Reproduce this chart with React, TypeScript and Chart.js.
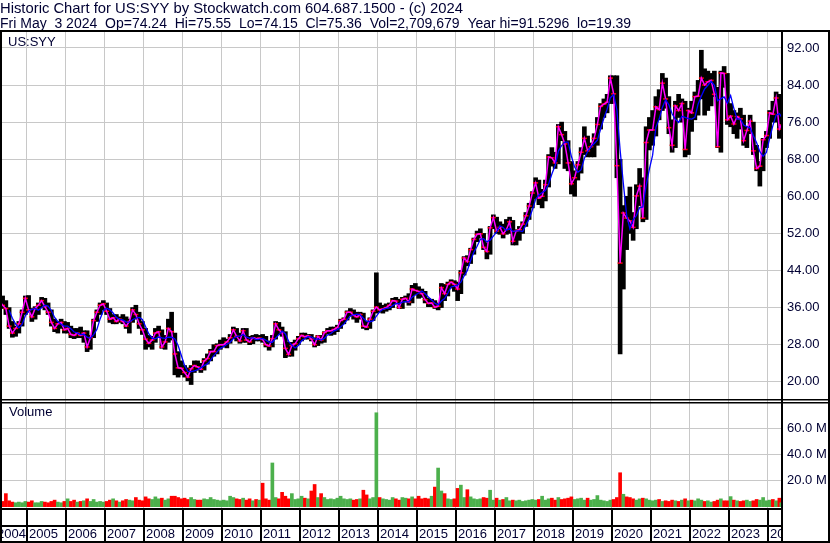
import React, { useEffect, useRef } from "react";
import { Chart, registerables } from "chart.js";

Chart.register(...registerables);

const TITLE_LINE = "Historic Chart for US:SYY by Stockwatch.com 604.687.1500 - (c) 2024";
const SUBTITLE_LINE = "Fri May  3 2024  Op=74.24  Hi=75.55  Lo=74.15  Cl=75.36  Vol=2,709,679  Year hi=91.5296  lo=19.39";
const SYMBOL = "US:SYY";
const VOLUME_LABEL = "Volume";

// Monthly bars, first month = April 2004, last = May 2024 (partial)
const START_YEAR = 2004;
const START_MONTH = 3;

const highs = [
  39.0, 38.5, 37.5, 36.0, 33.0, 32.0, 33.0, 35.5, 38.5,
  38.6, 35.8, 36.2, 37.0, 38.2, 38.0, 37.0, 35.5, 33.5, 33.0, 33.5, 33.0,
  32.8, 32.0, 31.5, 31.5, 31.8, 31.0, 31.0, 30.0, 33.5, 35.5, 37.0, 37.5,
  37.0, 35.8, 34.5, 34.5, 34.0, 34.5, 34.0, 33.5, 36.0, 36.5, 35.0, 33.0,
  31.5, 30.0, 29.8, 31.5, 32.0, 31.2, 30.0, 33.5, 35.0, 30.5, 26.5, 24.5,
  23.5, 23.0, 23.5, 24.5, 24.5, 24.0, 25.0, 26.0, 27.0, 28.0, 28.2, 29.0,
  29.5, 29.2, 30.2, 31.8, 31.5, 30.5, 31.5, 31.5, 29.8, 30.0, 30.2, 30.0,
  30.2, 29.8, 28.8, 30.0, 33.0, 32.8, 31.8, 30.8, 28.5, 28.5, 29.0, 29.8,
  30.5, 30.5, 30.2, 30.2, 29.5, 30.0, 30.0, 30.8, 31.5, 31.8, 31.8, 32.2,
  33.5, 33.8, 35.3, 35.8, 35.5, 35.0, 35.0, 34.8, 33.0, 33.8, 35.5, 43.5,
  37.0, 36.5, 36.8, 37.0, 38.0, 38.2, 37.8, 38.2, 38.5, 39.0, 40.8, 41.2,
  40.5, 40.0, 39.5, 38.0, 37.8, 37.5, 37.0, 41.2, 41.0, 41.5, 42.0, 41.8,
  41.5, 44.0, 47.0, 47.2, 48.8, 51.0, 52.5, 53.0, 52.0, 50.0, 53.5, 56.0,
  55.5, 54.5, 54.0, 55.0, 55.5, 54.8, 52.8, 53.5, 54.5, 56.5, 58.5, 61.0,
  64.0, 63.5, 61.5, 63.5, 69.0, 70.5, 69.5, 75.5, 76.0, 74.0, 72.0, 67.5,
  65.5, 67.5, 70.5, 75.0, 73.0, 71.5, 73.5, 77.0, 80.0, 81.0, 82.0, 86.0,
  86.0, 86.0, 68.0, 58.0, 60.0, 62.0, 56.5, 62.5, 66.0, 64.0, 75.0, 77.0,
  78.5, 81.5, 83.0, 86.5, 85.5, 81.5, 76.5, 80.5, 82.0, 81.0, 80.5, 79.0,
  80.5, 82.5, 85.0, 91.5, 87.5, 87.0, 86.5, 87.0, 83.5, 87.0, 88.0, 86.5,
  80.0, 78.5, 78.0, 79.0, 77.5, 75.0, 77.5, 76.0, 71.0, 67.5, 72.5, 74.0,
  78.5, 80.5, 82.5, 82.0, 75.6,
];

const lows = [
  36.8, 35.8, 34.5, 31.5, 29.6, 29.8, 30.5, 32.0, 34.5,
  35.0, 33.0, 33.5, 34.5, 36.0, 35.5, 34.5, 32.0, 30.8, 30.5, 31.5, 30.5,
  30.5, 29.5, 29.3, 29.5, 29.5, 28.5, 26.5, 27.0, 29.5, 33.0, 34.5, 35.5,
  34.5, 32.8, 32.5, 32.5, 32.8, 32.5, 31.5, 30.5, 32.8, 33.5, 31.5, 30.2,
  27.0, 27.5, 27.0, 28.5, 29.8, 27.2, 27.0, 28.5, 29.0, 21.5, 21.0, 21.5,
  21.0, 20.2, 19.4, 22.0, 22.5, 22.0, 22.5, 23.8, 24.5, 25.5, 26.0, 27.0,
  27.5, 27.3, 28.3, 29.3, 28.8, 28.3, 28.5, 28.5, 28.0, 28.2, 28.8, 28.8,
  28.5, 27.5, 26.8, 27.5, 29.2, 30.2, 29.8, 25.2, 25.5, 25.5, 26.8, 28.0,
  28.8, 29.2, 29.2, 28.8, 27.5, 27.8, 28.3, 28.5, 30.3, 30.0, 30.2, 30.8,
  31.5, 32.5, 33.3, 34.2, 33.5, 32.8, 33.5, 31.5, 31.2, 31.5, 33.2, 34.8,
  35.0, 34.8, 35.2, 35.5, 36.0, 36.8, 35.8, 35.8, 37.2, 36.5, 37.0, 38.8,
  38.0, 38.2, 37.0, 36.2, 36.2, 35.8, 35.5, 36.0, 37.5, 38.5, 40.2, 39.5,
  37.5, 39.0, 43.0, 45.0, 45.5, 47.5, 50.2, 51.0, 48.5, 46.5, 47.5, 53.0,
  52.0, 51.8, 51.0, 51.8, 52.0, 49.5, 49.5, 50.5, 52.0, 53.5, 55.0, 57.5,
  59.5, 58.2, 57.5, 59.0, 62.0, 66.5, 66.0, 67.0, 72.0, 66.0, 65.5, 60.5,
  60.0, 63.5, 65.0, 69.0, 68.5, 68.5, 68.5, 71.0, 74.5, 77.0, 78.0, 80.0,
  80.0, 64.0, 26.0, 40.0, 48.5, 52.0, 50.5, 53.0, 58.0, 54.5, 55.0, 70.0,
  71.0, 73.0, 76.5, 78.5, 79.0, 73.5, 69.5, 70.5, 77.0, 76.0, 68.5, 69.0,
  74.0, 76.5, 77.5, 81.0, 77.5, 78.5, 79.5, 81.5, 70.5, 69.5, 83.5, 75.5,
  75.0, 73.5, 72.5, 74.5, 71.0, 70.5, 73.5, 69.0, 65.5, 62.2, 65.5, 70.5,
  72.5, 76.0, 76.0, 72.5, 74.1,
];

const closes = [
  37.5, 36.5, 35.8, 32.0, 30.5, 31.5, 32.5, 35.0, 38.0,
  35.5, 34.0, 35.8, 36.5, 37.5, 36.2, 35.0, 32.8, 31.5, 32.5, 32.8, 31.2,
  31.5, 30.2, 30.0, 30.5, 30.0, 30.5, 27.5, 29.5, 33.2, 35.0, 36.5, 36.8,
  35.2, 33.5, 33.8, 33.0, 33.5, 33.0, 32.0, 33.0, 35.5, 34.5, 32.5, 31.2,
  29.2, 28.3, 29.0, 30.5, 30.8, 27.5, 28.6, 31.5, 30.8, 26.0, 23.0, 22.9,
  22.0, 21.0, 22.8, 23.5, 23.2, 22.7, 24.5, 25.0, 26.5, 26.5, 27.8, 28.0,
  28.0, 28.6, 29.5, 31.2, 29.8, 28.8, 31.0, 29.0, 28.6, 29.5, 29.3, 29.4,
  29.1, 28.0, 27.7, 29.3, 32.5, 31.2, 30.6, 27.2, 25.9, 27.8, 28.2, 29.3,
  30.0, 29.7, 29.9, 29.2, 28.0, 29.8, 29.0, 30.6, 31.0, 31.0, 31.3, 31.7,
  33.2, 33.5, 35.0, 35.0, 34.3, 34.0, 34.5, 32.0, 31.8, 33.5, 35.2, 36.1,
  35.5, 35.7, 36.0, 36.5, 37.5, 37.4, 36.0, 37.8, 38.0, 37.2, 40.0, 39.7,
  39.5, 39.0, 37.7, 36.9, 37.0, 36.1, 36.3, 40.3, 39.0, 41.0, 41.5, 41.0,
  40.0, 43.5, 46.7, 45.9, 48.5, 50.7, 51.8, 51.9, 49.0, 48.1, 53.2, 55.4,
  52.5, 53.3, 51.9, 52.8, 54.5, 50.3, 52.5, 52.8, 54.0, 55.8, 57.9, 60.7,
  62.9, 59.6, 60.0, 62.5, 68.5, 68.3, 67.2, 75.0, 73.3, 71.3, 67.2, 62.7,
  64.0, 66.8, 69.5, 72.5, 69.8, 70.7, 72.5, 75.5, 79.4, 79.9, 80.3, 85.5,
  82.1, 66.6, 45.6, 56.4, 55.3, 54.7, 53.3, 60.1, 62.2, 55.3, 71.6, 74.3,
  74.3, 79.3, 78.7, 84.4, 81.0, 74.8, 71.0, 79.5, 78.5, 80.0, 70.1, 78.5,
  78.0, 81.5, 81.6, 85.5, 84.0, 84.7, 85.0, 82.0, 70.7, 86.6, 86.5, 76.5,
  77.3, 75.6, 77.2, 76.7, 72.0, 74.2, 76.2, 69.8, 66.0, 66.5, 72.2, 73.1,
  78.0, 77.7, 81.2, 74.5, 75.4,
];

// Volume, millions of shares (tallest visible daily bar in each month)
const volumesM = [
  3.5, 4.0, 10.0, 4.5, 3.5, 3.0, 3.5, 3.0, 4.0,
  3.5, 4.5, 3.0, 3.0, 4.0, 3.5, 3.0, 4.0, 5.0, 3.5, 3.0, 4.0,
  6.0, 4.0, 5.0, 3.5, 4.0, 4.5, 6.0, 4.0, 5.5, 3.5, 4.0, 3.5,
  4.0, 5.0, 6.0, 4.5, 3.5, 4.5, 5.5, 5.0, 4.5, 7.0, 5.0, 4.5,
  7.5, 6.0, 5.5, 7.5, 6.0, 6.5, 5.0, 6.0, 8.0, 8.0, 7.0, 6.0,
  6.5, 5.5, 7.0, 5.5, 5.0, 5.0, 6.0, 5.5, 7.0, 5.5, 5.0, 4.5,
  5.0, 4.5, 8.0, 7.0, 6.0, 5.5, 6.5, 5.0, 6.0, 4.5, 5.5, 5.0,
  18.0, 6.0, 5.0, 33.5, 7.0, 6.0, 11.0, 8.0, 6.0, 10.0, 5.5, 6.0,
  8.0, 6.5, 6.0, 12.0, 17.0, 7.0, 10.0, 7.0, 5.5, 6.0, 5.5, 6.5,
  8.0, 6.0, 5.5, 6.0, 5.0, 5.5, 6.0, 12.6, 9.0, 6.0, 7.0, 72.0,
  7.0, 6.0, 5.5, 5.0, 7.0, 6.0, 5.0, 7.0, 6.5, 6.0, 7.5, 6.0,
  8.0, 6.0, 6.5, 6.0, 8.0, 15.0, 29.6, 12.0, 10.0, 6.0, 5.5, 6.0,
  14.0, 16.5, 7.0, 13.0, 7.5, 6.0, 5.5, 6.0, 7.0, 6.5, 12.6, 5.0,
  6.5, 5.0, 5.5, 7.0, 4.5, 5.0, 4.5, 5.0, 4.0, 4.5, 5.0, 5.5,
  5.0, 5.5, 8.0, 5.0, 6.0, 6.5, 5.0, 7.0, 5.5, 6.0, 6.5, 7.5,
  5.5, 6.0, 6.5, 5.0, 6.5, 5.0, 5.5, 8.5, 5.0, 4.5, 4.0, 5.0,
  5.5, 7.0, 26.0, 9.5, 7.5, 7.0, 6.0, 5.0, 6.0, 6.5, 6.0, 5.0,
  4.5, 5.0, 5.5, 4.0, 4.5, 4.0, 5.0, 4.5, 4.0, 5.0, 6.0, 4.5,
  5.0, 4.5, 6.0, 5.0, 4.0, 4.5, 3.5, 4.0, 5.0, 6.0, 4.5, 4.5,
  7.7, 5.0, 4.5, 4.0, 4.5, 5.0, 4.0, 4.5, 5.5, 5.0, 7.0, 4.5,
  5.0, 5.5, 4.5, 6.5, 3.0,
];

const priceTicks = [20, 24, 28, 32, 36, 40, 44, 48, 52, 56, 60, 64, 68, 72, 76, 80, 84, 88, 92];
const volumeTicksM = [20, 40, 60];
const FIRST_YEAR_LABEL = "2004";
const yearTicks = [2005, 2006, 2007, 2008, 2009, 2010, 2011, 2012, 2013, 2014,
  2015, 2016, 2017, 2018, 2019, 2020, 2021, 2022, 2023, 2024];

const FONT = "Arial, 'Liberation Sans', sans-serif";
const NAVY = "#000033";
const GRID = "#c8c8c8";
const UP = "#4cb04c";
const DOWN = "#ff0000";

const X_MIN = 2004.308;
const X_MAX = 2024.359;
const P_MIN = 15.42;
const P_MAX = 95.45;
const V_MIN = -1.8;
const V_MAX = 79.5;
const LABEL_PAD = 18;
const LABEL_SIZE = 13;

function monthTime(i: number): number {
  if (i === closes.length - 1) return 2024 + 4.1 / 12;
  return START_YEAR + (START_MONTH + i + 0.5) / 12;
}

function sma(values: number[], n: number): (number | null)[] {
  return values.map((_, i) => {
    if (i < n - 1) return null;
    let s = 0;
    for (let k = i - n + 1; k <= i; k++) s += values[k];
    return s / n;
  });
}

const framePlugin = {
  id: "stockwatchFrame",
  afterDraw(chart: any) {
    const { ctx, chartArea } = chart;
    const xs = chart.scales.x;
    const yp = chart.scales.y;
    const W = chart.width;
    const H = chart.height;
    const right = Math.round(chartArea.right);
    const top = Math.round(chartArea.top);
    const volBottom = Math.round(chartArea.bottom);
    const sep = Math.round(yp.bottom);
    ctx.save();
    // first (partial) year label, left of the first year boundary
    ctx.fillStyle = NAVY;
    ctx.font = `${LABEL_SIZE}px ${FONT}`;
    ctx.textBaseline = "middle";
    ctx.textAlign = "right";
    ctx.fillText(FIRST_YEAR_LABEL, xs.getPixelForValue(yearTicks[0]) - 1, xs.top + LABEL_PAD + LABEL_SIZE * 0.6);
    // hide year labels spilling past the panel
    ctx.fillStyle = "#ffffff";
    ctx.fillRect(right, volBottom, W - right, H - volBottom);
    ctx.fillStyle = "#000000";
    ctx.fillRect(0, top - 2, W, 2);
    ctx.fillRect(0, top - 2, 2, H - top + 2);
    ctx.fillRect(right - 1, top - 2, 2, H - top + 2);
    ctx.fillRect(W - 2, top - 2, 2, H - top + 2);
    ctx.fillRect(0, sep - 4, W, 1.5);
    ctx.fillRect(0, sep - 1, W, 1.5);
    ctx.fillRect(0, volBottom - 1, right, 2);
    ctx.fillRect(0, volBottom + 16, right, 2);
    ctx.fillRect(0, H - 2, W, 2);
    for (const yr of yearTicks) {
      const px = xs.getPixelForValue(yr);
      if (px > 1 && px < right - 1) ctx.fillRect(Math.round(px) - 1, volBottom, 2, H - volBottom);
    }
    ctx.fillStyle = NAVY;
    ctx.font = `13px ${FONT}`;
    ctx.textBaseline = "top";
    ctx.textAlign = "left";
    ctx.fillText(SYMBOL, 8, top + 4);
    ctx.fillText(VOLUME_LABEL, 9, sep + 3);
    ctx.restore();
  },
};

export default function App() {
  const ref = useRef<HTMLCanvasElement | null>(null);

  useEffect(() => {
    document.body.style.margin = "0";
    const canvas = ref.current;
    if (!canvas) return;

    const ranges = closes.map((_, i) => ({ x: monthTime(i), y: [lows[i], highs[i]] }));
    const closePts = closes.map((c, i) => ({ x: monthTime(i), y: c }));
    const ma = sma(closes, 4);
    const maPts = ma.map((v, i) => ({ x: monthTime(i), y: v }));
    const volPts = volumesM.map((v, i) => ({ x: monthTime(i), y: v }));
    const volColors = closes.map((c, i) => (i > 0 && c < closes[i - 1] ? DOWN : UP));

    const chart = new Chart(canvas, {
      type: "bar",
      data: {
        datasets: [
          {
            type: "line",
            label: "Moving average",
            data: maPts as any,
            borderColor: "#0000ff",
            borderWidth: 1.3,
            pointRadius: 0,
            pointHoverRadius: 0,
            yAxisID: "y",
            order: 1,
          },
          {
            type: "line",
            label: "Close",
            data: closePts as any,
            borderColor: "#ff00ff",
            borderWidth: 1.5,
            pointRadius: 0,
            pointHoverRadius: 0,
            yAxisID: "y",
            order: 2,
          },
          {
            type: "line",
            label: "Close tick",
            data: closePts as any,
            showLine: false,
            pointStyle: "line",
            pointRadius: 2.5,
            pointHoverRadius: 2.5,
            borderColor: DOWN,
            backgroundColor: DOWN,
            borderWidth: 1.5,
            yAxisID: "y",
            order: 3,
          },
          {
            type: "bar",
            label: "Range",
            data: ranges as any,
            backgroundColor: "#000000",
            barThickness: 4,
            grouped: false,
            yAxisID: "y",
            order: 4,
          },
          {
            type: "bar",
            label: "Volume",
            data: volPts as any,
            backgroundColor: volColors,
            barThickness: 3,
            grouped: false,
            yAxisID: "yv",
            order: 5,
          },
        ],
      },
      options: {
        animation: false,
        responsive: false,
        events: [],
        layout: { padding: 0, autoPadding: false },
        plugins: {
          legend: { display: false },
          tooltip: { enabled: false },
          title: {
            display: true,
            text: TITLE_LINE,
            align: "start",
            color: NAVY,
            font: { family: FONT, size: 14.8, weight: "normal", lineHeight: 1.05 },
            padding: { top: 1, bottom: 0 },
          },
          subtitle: {
            display: true,
            text: SUBTITLE_LINE,
            align: "start",
            color: NAVY,
            font: { family: FONT, size: 14, weight: "normal", lineHeight: 1.1 },
            padding: { top: 0, bottom: 0 },
          },
        },
        scales: {
          x: {
            type: "linear",
            min: X_MIN,
            max: X_MAX,
            offset: false,
            position: "bottom",
            border: { display: false },
            grid: { color: GRID, lineWidth: 1, drawTicks: false, offset: false },
            afterBuildTicks: (s: any) => {
              s.ticks = yearTicks.map((y) => ({ value: y }));
            },
            ticks: {
              autoSkip: false,
              maxRotation: 0,
              align: "start",
              labelOffset: 2,
              padding: LABEL_PAD,
              color: NAVY,
              font: { family: FONT, size: LABEL_SIZE },
              callback: (v: any) => String(Math.floor(Number(v))),
            },
            afterFit: (s: any) => {
              s.height = 34;
              s.paddingLeft = 0;
              s.paddingRight = 0;
            },
          },
          y: {
            type: "linear",
            position: "right",
            stack: "panels",
            stackWeight: 371,
            min: P_MIN,
            max: P_MAX,
            border: { display: false },
            grid: { color: GRID, drawTicks: false },
            afterBuildTicks: (s: any) => {
              s.ticks = priceTicks.map((v) => ({ value: v }));
            },
            ticks: {
              padding: 5,
              color: NAVY,
              font: { family: FONT, size: 13 },
              callback: (v: any) => Number(v).toFixed(2),
            },
            afterFit: (s: any) => {
              s.width = 48;
              s.paddingTop = 0;
              s.paddingBottom = 0;
            },
          },
          yv: {
            type: "linear",
            position: "right",
            stack: "panels",
            stackWeight: 106,
            min: V_MIN,
            max: V_MAX,
            border: { display: false },
            grid: { color: GRID, drawTicks: false },
            afterBuildTicks: (s: any) => {
              s.ticks = volumeTicksM.map((v) => ({ value: v }));
            },
            ticks: {
              padding: 5,
              color: NAVY,
              font: { family: FONT, size: 13 },
              callback: (v: any) => `${Number(v).toFixed(1)} M`,
            },
            afterFit: (s: any) => {
              s.width = 48;
              s.paddingTop = 0;
              s.paddingBottom = 0;
            },
          },
        },
      } as any,
      plugins: [framePlugin],
    });

    return () => chart.destroy();
  }, []);

  return <canvas ref={ref} width={830} height={543} style={{ display: "block" }} />;
}
